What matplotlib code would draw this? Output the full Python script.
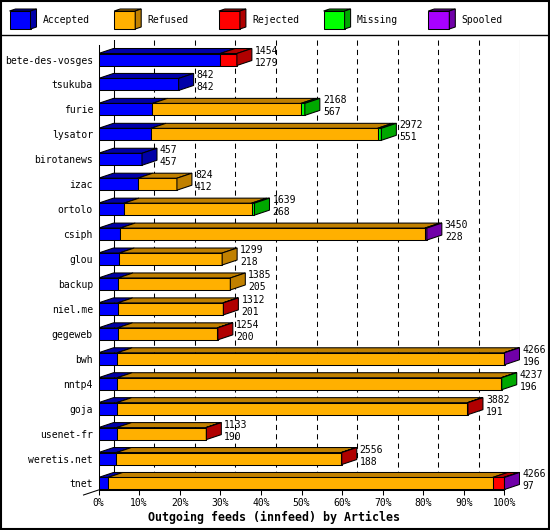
import numpy as np
import matplotlib
matplotlib.use('Agg')
import matplotlib.pyplot as plt
from matplotlib.patches import Polygon, Rectangle
from matplotlib.lines import Line2D

# innfeed outgoing feeds, articles per peer
feeds = ['bete-des-vosges', 'tsukuba', 'furie', 'lysator', 'birotanews', 'izac',
         'ortolo', 'csiph', 'glou', 'backup', 'niel.me', 'gegeweb', 'bwh', 'nntp4',
         'goja', 'usenet-fr', 'weretis.net', 'tnet']
accepted = [1279, 842, 567, 551, 457, 412, 268, 228, 218, 205, 201, 200, 196, 196, 191, 190, 188, 97]
refused = [0, 0, 1561, 2381, 0, 412, 1341, 3202, 1081, 1180, 1106, 1049, 4065, 4036, 3686, 938, 2363, 4044]
rejected = [175, 0, 0, 0, 0, 0, 0, 0, 0, 0, 5, 5, 0, 0, 5, 5, 5, 115]
missing = [0, 0, 40, 40, 0, 0, 30, 0, 0, 0, 0, 0, 0, 5, 0, 0, 0, 0]
spooled = [0, 0, 0, 0, 0, 0, 0, 20, 0, 0, 0, 0, 5, 0, 0, 0, 0, 10]

series_names = ['Accepted', 'Refused', 'Rejected', 'Missing', 'Spooled']
front_colors = ['#0000ff', '#ffb000', '#ff0000', '#00ff00', '#a800ff']
dark_colors = ['#0000a8', '#c08000', '#b00000', '#00a800', '#7000a8']

plt.rcParams['font.family'] = ['DejaVu Sans Mono']

W, H = 550, 530
fig = plt.figure(figsize=(W / 100, H / 100), dpi=100)

# geometry of the pseudo 3d plot (pixels)
x0_px, x100_px = 98.5, 504.5
depth_px, rise_px = 15, 5
row0_px, row_step = 59.5, 24.94
top_px, floor_px = 40, 490
half_px = 6

px_per_pct = (x100_px - x0_px) / 100
ax = fig.add_axes([x0_px / W, 1 - floor_px / H, (x100_px + depth_px - x0_px) / W, (floor_px - top_px) / H])
ax.set_xlim(0, (x100_px + depth_px - x0_px) / px_per_pct)
y_bot = (floor_px - row0_px) / row_step
y_top = (top_px - row0_px) / row_step
ax.set_ylim(y_bot, y_top)

dx = depth_px / px_per_pct
dy = -rise_px / row_step
hh = half_px / row_step
lw = 0.75

for s in ['top', 'right']:
    ax.spines[s].set_visible(False)
ax.spines['bottom'].set_bounds(0, 100)
ax.spines['left'].set_bounds(y_top - dy, y_bot)
ax.spines['bottom'].set_linewidth(lw)
ax.spines['left'].set_linewidth(lw)

ticks = np.arange(0, 101, 10)
ax.set_xticks(ticks, [f'{t}%' for t in ticks])
ax.tick_params(axis='x', direction='out', length=3.6, width=lw, pad=2.5, labelsize=7)
ax.set_yticks(range(len(feeds)), feeds)
ax.tick_params(axis='y', length=0, pad=4, labelsize=7)

# back wall, grid and floor edge
ax.plot([0, -dx], [y_bot, y_bot - dy], color='black', lw=lw, clip_on=False)
for t in ticks:
    ls = '-' if t in (0, 100) else (0, (5, 4))
    ax.plot([t + dx, t + dx], [y_top, y_bot + dy], color='black', lw=lw, ls=ls, zorder=1)

values = np.array([accepted, refused, rejected, missing, spooled])
totals = values.sum(axis=0)
scale = 100 / totals.max()

for i in range(len(feeds)):
    left = 0
    last = 0
    for k in range(len(series_names)):
        v = values[k, i]
        if v <= 0:
            continue
        w = v * scale
        ax.add_patch(Polygon([(left, i - hh), (left + w, i - hh), (left + w, i + hh), (left, i + hh)],
                             closed=True, fc=front_colors[k], ec='black', lw=lw, zorder=3))
        ax.add_patch(Polygon([(left, i - hh), (left + dx, i - hh + dy), (left + w + dx, i - hh + dy), (left + w, i - hh)],
                             closed=True, fc=dark_colors[k], ec='black', lw=lw, zorder=3))
        left += w
        last = k
    ax.add_patch(Polygon([(left, i - hh), (left + dx, i - hh + dy), (left + dx, i + hh + dy), (left, i + hh)],
                         closed=True, fc=dark_colors[last], ec='black', lw=lw, zorder=3))
    tx = left + dx + 3 / px_per_pct
    ax.text(tx, i - 9 / row_step, str(totals[i]), fontsize=7, va='center', ha='left', zorder=4)
    ax.text(tx, i + 3 / row_step, str(accepted[i]), fontsize=7, va='center', ha='left', zorder=4)

fig.text(274 / W, 1 - 517 / H, 'Outgoing feeds (innfeed) by Articles', ha='center', va='center',
         fontsize=8.4, fontweight='bold')

# legend strip
lax = fig.add_axes([0, 1 - 35 / H, 1, 35 / H])
lax.set_xlim(0, W)
lax.set_ylim(35, 0)
lax.axis('off')
for k, name in enumerate(series_names):
    cx = 9.5 + k * 104.7
    lax.add_patch(Polygon([(cx, 11), (cx + 21, 11), (cx + 21, 29), (cx, 29)], closed=True,
                          fc=front_colors[k], ec='black', lw=lw))
    lax.add_patch(Polygon([(cx, 11), (cx + 6, 9), (cx + 27, 9), (cx + 21, 11)], closed=True,
                          fc=dark_colors[k], ec='black', lw=lw))
    lax.add_patch(Polygon([(cx + 21, 11), (cx + 27, 9), (cx + 27, 27), (cx + 21, 29)], closed=True,
                          fc=dark_colors[k], ec='black', lw=lw))
    lax.text(cx + 33, 20, name, fontsize=7, va='center', ha='left')

fig.add_artist(Line2D([0, 1], [1 - 35 / H, 1 - 35 / H], transform=fig.transFigure, color='black', lw=1))
fig.add_artist(Rectangle((0.001, 0.001), 0.998, 0.998, transform=fig.transFigure, fill=False,
                         ec='black', lw=1.5))

fig.savefig('out.png', dpi=100)
